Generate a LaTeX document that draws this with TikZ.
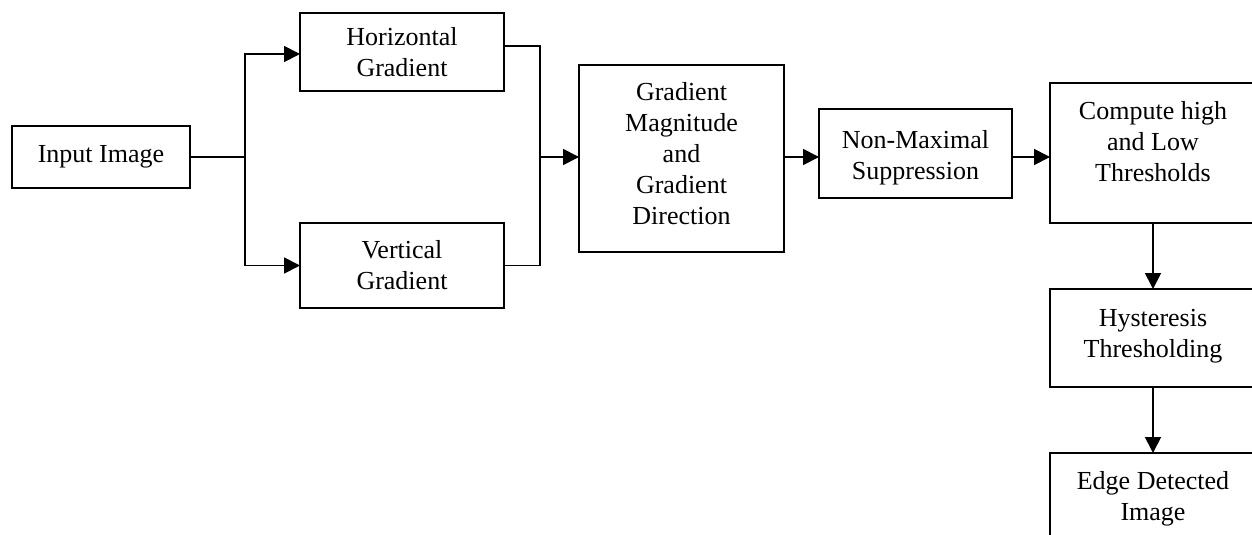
\documentclass[tikz,border=0pt]{standalone}
\usepackage{fontspec}
\setmainfont{Liberation Serif}
\usetikzlibrary{arrows.meta,calc}
\begin{document}
\begin{tikzpicture}[x=0.5pt,y=-0.5pt,
  box/.style={draw,line width=0.9pt,inner sep=0pt,outer sep=0pt,align=center,
    font=\fontsize{13}{15.5}\selectfont},
  conn/.style={line width=0.9pt},
  arr/.style={conn,-{Triangle[length=8pt,width=8pt]}}]
\useasboundingbox (0,0) rectangle (1252,535);
\clip (0,0) rectangle (1252,535);
\node[box,minimum width=89pt,minimum height=31pt] (in) at (101,157) {Input Image};
\node[box,minimum width=102pt,minimum height=39pt] (hor) at (402,52) {Horizontal\\Gradient};
\node[box,minimum width=102pt,minimum height=42.5pt] (ver) at (402,265.5) {Vertical\\Gradient};
\node[box,minimum width=102.5pt,minimum height=93.5pt] (mag) at (681.5,158.5) {Gradient\\Magnitude\\and\\Gradient\\Direction\rule[-5pt]{0pt}{0pt}};
\node[box,minimum width=96.5pt,minimum height=44.5pt] (nms) at (915.5,153.5) {\rule{0pt}{13pt}Non-Maximal\\Suppression};
\node[box,minimum width=103pt,minimum height=70pt] (thr) at (1153,153) {Compute high\\and Low\\Thresholds\rule[-12pt]{0pt}{0pt}};
\node[box,minimum width=103pt,minimum height=49pt] (hys) at (1153,338) {Hysteresis\\Thresholding\rule[-5pt]{0pt}{0pt}};
\node[box,minimum width=103pt,minimum height=46pt] (edge) at (1153,499) {Edge Detected\\Image\rule[-3pt]{0pt}{0pt}};
\coordinate (j1) at (245,157);
\coordinate (j2) at (540,157);
\coordinate (row) at (0,157);
\draw[conn] (in.east |- row) -- (j1);
\draw[arr] (j1) |- ([yshift=-1pt]hor.west);
\draw[arr] (j1) |- (ver.west);
\draw[conn] ([yshift=3pt]hor.east) -| (j2);
\draw[conn] (ver.east) -| (j2);
\draw[arr] (j2) -- (j2 -| mag.west);
\draw[arr] (mag.east |- row) -- (nms.west |- row);
\draw[arr] (nms.east |- row) -- (thr.west |- row);
\draw[arr] (thr.south) -- (hys.north);
\draw[arr] (hys.south) -- (edge.north);
\end{tikzpicture}
\end{document}
